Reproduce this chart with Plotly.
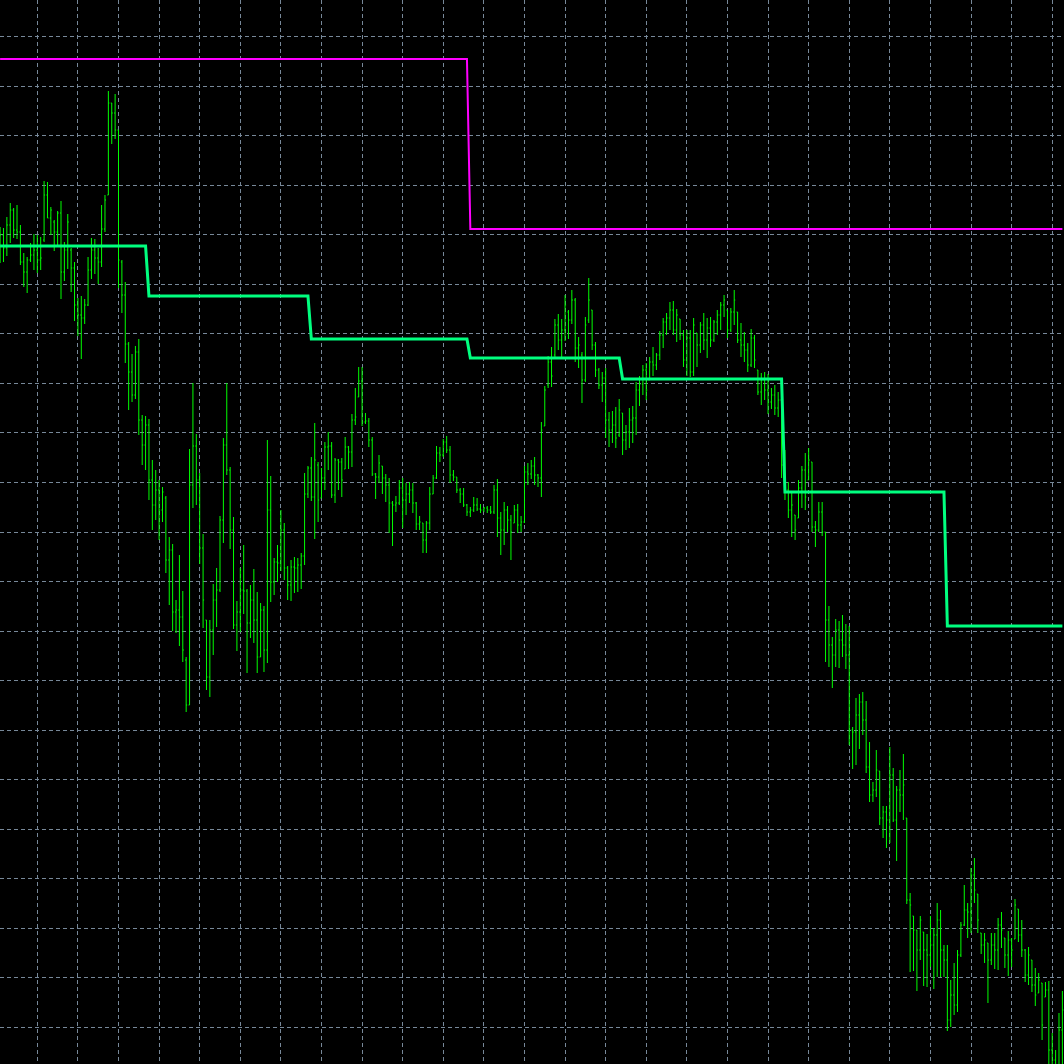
import plotly.graph_objects as go

# bar number on the chart (0 = leftmost bar)
bars = list(range(315))

opens = [
    1.19760, 1.19765, 1.19752, 1.19775, 1.19790, 1.19770, 1.19768, 1.19738, 1.19728, 1.19740,
    1.19745, 1.19750, 1.19740, 1.19760, 1.19805, 1.19782, 1.19778, 1.19768, 1.19787, 1.19728,
    1.19750, 1.19750, 1.19732, 1.19695, 1.19685, 1.19682, 1.19695, 1.19730, 1.19750, 1.19742,
    1.19738, 1.19771, 1.19805, 1.19897, 1.19887, 1.19870, 1.19738, 1.19705, 1.19656, 1.19628,
    1.19605, 1.19648, 1.19580, 1.19555, 1.19575, 1.19520, 1.19495, 1.19510, 1.19490, 1.19502,
    1.19440, 1.19450, 1.19388, 1.19390, 1.19383, 1.19340, 1.19295, 1.19515, 1.19554, 1.19520,
    1.19452, 1.19380, 1.19323, 1.19370, 1.19400, 1.19410, 1.19480, 1.19555, 1.19530, 1.19470,
    1.19375, 1.19388, 1.19410, 1.19409, 1.19377, 1.19400, 1.19380, 1.19343, 1.19390, 1.19350,
    1.19490, 1.19418, 1.19438, 1.19437, 1.19470, 1.19432, 1.19415, 1.19433, 1.19432, 1.19435,
    1.19444, 1.19506, 1.19532, 1.19503, 1.19535, 1.19502, 1.19522, 1.19553, 1.19554, 1.19505,
    1.19540, 1.19538, 1.19531, 1.19553, 1.19548, 1.19580, 1.19603, 1.19619, 1.19578, 1.19579,
    1.19560, 1.19526, 1.19523, 1.19534, 1.19522, 1.19515, 1.19497, 1.19495, 1.19497, 1.19512,
    1.19500, 1.19506, 1.19510, 1.19497, 1.19476, 1.19477, 1.19460, 1.19477, 1.19506, 1.19522,
    1.19547, 1.19545, 1.19558, 1.19550, 1.19525, 1.19523, 1.19510, 1.19506, 1.19495, 1.19488,
    1.19490, 1.19495, 1.19491, 1.19490, 1.19492, 1.19490, 1.19488, 1.19510, 1.19482, 1.19470,
    1.19490, 1.19480, 1.19477, 1.19490, 1.19475, 1.19478, 1.19528, 1.19526, 1.19534, 1.19525,
    1.19522, 1.19574, 1.19615, 1.19638, 1.19645, 1.19675, 1.19660, 1.19670, 1.19688, 1.19680,
    1.19700, 1.19652, 1.19645, 1.19620, 1.19680, 1.19690, 1.19655, 1.19630, 1.19615, 1.19622,
    1.19580, 1.19570, 1.19575, 1.19565, 1.19587, 1.19560, 1.19568, 1.19580, 1.19582, 1.19610,
    1.19616, 1.19630, 1.19620, 1.19638, 1.19635, 1.19645, 1.19665, 1.19678, 1.19682, 1.19690,
    1.19670, 1.19681, 1.19665, 1.19640, 1.19662, 1.19628, 1.19667, 1.19655, 1.19675, 1.19660,
    1.19672, 1.19660, 1.19678, 1.19685, 1.19695, 1.19690, 1.19670, 1.19688, 1.19688, 1.19660,
    1.19655, 1.19650, 1.19635, 1.19662, 1.19630, 1.19608, 1.19620, 1.19610, 1.19598, 1.19605,
    1.19592, 1.19600, 1.19535, 1.19510, 1.19490, 1.19485, 1.19482, 1.19512, 1.19530, 1.19520,
    1.19538, 1.19473, 1.19470, 1.19488, 1.19468, 1.19380, 1.19355, 1.19345, 1.19370, 1.19360,
    1.19355, 1.19345, 1.19270, 1.19268, 1.19285, 1.19298, 1.19280, 1.19233, 1.19205, 1.19210,
    1.19229, 1.19182, 1.19188, 1.19180, 1.19225, 1.19180, 1.19210, 1.19205, 1.19182, 1.19100,
    1.19084, 1.19070, 1.19050, 1.19068, 1.19050, 1.19045, 1.19055, 1.19065, 1.19080, 1.19050,
    1.19040, 1.18980, 1.19005, 1.18995, 1.19045, 1.19075, 1.19090, 1.19088, 1.19125, 1.19106,
    1.19067, 1.19055, 1.19057, 1.19040, 1.19055, 1.19050, 1.19075, 1.19062, 1.19045, 1.19060,
    1.19061, 1.19091, 1.19065, 1.19050, 1.19025, 1.19040, 1.19015, 1.19007, 1.19017, 1.19003,
    1.19010, 1.18950, 1.18940, 1.18930, 1.18970,
]

highs = [
    1.19773, 1.19772, 1.19783, 1.19797, 1.19792, 1.19795, 1.19775, 1.19747, 1.19743, 1.19757,
    1.19766, 1.19765, 1.19763, 1.19819, 1.19818, 1.19793, 1.19780, 1.19789, 1.19799, 1.19758,
    1.19786, 1.19752, 1.19738, 1.19702, 1.19704, 1.19701, 1.19743, 1.19762, 1.19761, 1.19752,
    1.19795, 1.19805, 1.19909, 1.19897, 1.19906, 1.19870, 1.19740, 1.19718, 1.19658, 1.19646,
    1.19654, 1.19661, 1.19585, 1.19584, 1.19581, 1.19540, 1.19530, 1.19520, 1.19513, 1.19504,
    1.19463, 1.19456, 1.19400, 1.19445, 1.19409, 1.19343, 1.19551, 1.19617, 1.19566, 1.19527,
    1.19466, 1.19380, 1.19380, 1.19416, 1.19432, 1.19484, 1.19562, 1.19617, 1.19533, 1.19483,
    1.19399, 1.19432, 1.19455, 1.19411, 1.19415, 1.19431, 1.19408, 1.19397, 1.19394, 1.19560,
    1.19524, 1.19442, 1.19455, 1.19490, 1.19477, 1.19434, 1.19440, 1.19443, 1.19442, 1.19447,
    1.19527, 1.19534, 1.19543, 1.19577, 1.19538, 1.19532, 1.19558, 1.19568, 1.19558, 1.19542,
    1.19541, 1.19542, 1.19563, 1.19554, 1.19586, 1.19612, 1.19633, 1.19633, 1.19587, 1.19582,
    1.19563, 1.19527, 1.19545, 1.19534, 1.19526, 1.19522, 1.19499, 1.19504, 1.19520, 1.19522,
    1.19517, 1.19518, 1.19517, 1.19498, 1.19484, 1.19477, 1.19479, 1.19513, 1.19525, 1.19554,
    1.19553, 1.19561, 1.19564, 1.19554, 1.19530, 1.19523, 1.19512, 1.19512, 1.19496, 1.19493,
    1.19503, 1.19502, 1.19496, 1.19493, 1.19494, 1.19494, 1.19515, 1.19521, 1.19488, 1.19498,
    1.19494, 1.19485, 1.19495, 1.19496, 1.19484, 1.19534, 1.19537, 1.19540, 1.19543, 1.19526,
    1.19578, 1.19614, 1.19644, 1.19653, 1.19681, 1.19686, 1.19681, 1.19705, 1.19690, 1.19710,
    1.19702, 1.19663, 1.19648, 1.19683, 1.19722, 1.19690, 1.19658, 1.19632, 1.19628, 1.19632,
    1.19588, 1.19589, 1.19593, 1.19601, 1.19587, 1.19575, 1.19592, 1.19594, 1.19618, 1.19624,
    1.19635, 1.19637, 1.19643, 1.19653, 1.19647, 1.19669, 1.19682, 1.19687, 1.19698, 1.19699,
    1.19691, 1.19681, 1.19670, 1.19670, 1.19670, 1.19682, 1.19667, 1.19678, 1.19687, 1.19682,
    1.19683, 1.19680, 1.19690, 1.19698, 1.19705, 1.19690, 1.19692, 1.19710, 1.19688, 1.19677,
    1.19668, 1.19657, 1.19671, 1.19665, 1.19630, 1.19627, 1.19628, 1.19626, 1.19612, 1.19615,
    1.19608, 1.19607, 1.19550, 1.19518, 1.19507, 1.19485, 1.19520, 1.19534, 1.19547, 1.19552,
    1.19538, 1.19479, 1.19498, 1.19498, 1.19468, 1.19394, 1.19363, 1.19381, 1.19379, 1.19385,
    1.19376, 1.19374, 1.19273, 1.19302, 1.19306, 1.19308, 1.19299, 1.19258, 1.19218, 1.19250,
    1.19229, 1.19194, 1.19194, 1.19253, 1.19232, 1.19214, 1.19230, 1.19246, 1.19182, 1.19107,
    1.19084, 1.19070, 1.19084, 1.19068, 1.19066, 1.19084, 1.19072, 1.19097, 1.19090, 1.19055,
    1.19055, 1.19020, 1.19037, 1.19050, 1.19078, 1.19115, 1.19097, 1.19132, 1.19142, 1.19106,
    1.19067, 1.19067, 1.19057, 1.19067, 1.19067, 1.19082, 1.19088, 1.19062, 1.19069, 1.19062,
    1.19101, 1.19091, 1.19080, 1.19051, 1.19053, 1.19040, 1.19032, 1.19027, 1.19017, 1.19018,
    1.19019, 1.18967, 1.18950, 1.18987, 1.19009,
]

lows = [
    1.19737, 1.19738, 1.19744, 1.19757, 1.19762, 1.19761, 1.19735, 1.19713, 1.19707, 1.19738,
    1.19730, 1.19727, 1.19730, 1.19758, 1.19782, 1.19765, 1.19749, 1.19754, 1.19701, 1.19719,
    1.19731, 1.19708, 1.19679, 1.19664, 1.19641, 1.19676, 1.19694, 1.19721, 1.19726, 1.19716,
    1.19733, 1.19768, 1.19805, 1.19856, 1.19861, 1.19712, 1.19687, 1.19637, 1.19590, 1.19598,
    1.19601, 1.19565, 1.19535, 1.19530, 1.19500, 1.19470, 1.19480, 1.19460, 1.19478, 1.19427,
    1.19395, 1.19369, 1.19367, 1.19354, 1.19338, 1.19288, 1.19295, 1.19492, 1.19495, 1.19436,
    1.19372, 1.19310, 1.19303, 1.19345, 1.19373, 1.19408, 1.19457, 1.19525, 1.19451, 1.19371,
    1.19349, 1.19368, 1.19386, 1.19327, 1.19362, 1.19357, 1.19327, 1.19343, 1.19328, 1.19337,
    1.19398, 1.19405, 1.19418, 1.19429, 1.19420, 1.19400, 1.19399, 1.19407, 1.19408, 1.19411,
    1.19435, 1.19502, 1.19499, 1.19461, 1.19478, 1.19502, 1.19510, 1.19530, 1.19502, 1.19497,
    1.19510, 1.19503, 1.19531, 1.19531, 1.19533, 1.19575, 1.19603, 1.19574, 1.19576, 1.19553,
    1.19524, 1.19501, 1.19517, 1.19506, 1.19498, 1.19467, 1.19454, 1.19488, 1.19495, 1.19472,
    1.19485, 1.19497, 1.19487, 1.19470, 1.19470, 1.19447, 1.19447, 1.19470, 1.19506, 1.19521,
    1.19538, 1.19543, 1.19547, 1.19517, 1.19519, 1.19507, 1.19497, 1.19493, 1.19484, 1.19483,
    1.19488, 1.19489, 1.19487, 1.19488, 1.19487, 1.19486, 1.19486, 1.19463, 1.19445, 1.19455,
    1.19468, 1.19440, 1.19477, 1.19467, 1.19468, 1.19477, 1.19515, 1.19521, 1.19515, 1.19513,
    1.19503, 1.19574, 1.19612, 1.19613, 1.19643, 1.19650, 1.19643, 1.19659, 1.19661, 1.19676,
    1.19638, 1.19632, 1.19597, 1.19618, 1.19677, 1.19650, 1.19623, 1.19611, 1.19598, 1.19562,
    1.19553, 1.19557, 1.19552, 1.19563, 1.19545, 1.19550, 1.19552, 1.19557, 1.19565, 1.19594,
    1.19605, 1.19600, 1.19620, 1.19624, 1.19630, 1.19640, 1.19652, 1.19665, 1.19670, 1.19665,
    1.19658, 1.19660, 1.19633, 1.19624, 1.19623, 1.19624, 1.19633, 1.19647, 1.19650, 1.19642,
    1.19653, 1.19658, 1.19665, 1.19670, 1.19683, 1.19662, 1.19668, 1.19675, 1.19657, 1.19643,
    1.19638, 1.19628, 1.19633, 1.19632, 1.19605, 1.19595, 1.19600, 1.19586, 1.19591, 1.19585,
    1.19583, 1.19522, 1.19500, 1.19482, 1.19463, 1.19460, 1.19482, 1.19492, 1.19490, 1.19520,
    1.19468, 1.19453, 1.19468, 1.19464, 1.19338, 1.19333, 1.19312, 1.19333, 1.19332, 1.19343,
    1.19331, 1.19255, 1.19231, 1.19235, 1.19251, 1.19265, 1.19227, 1.19198, 1.19198, 1.19203,
    1.19175, 1.19162, 1.19152, 1.19157, 1.19178, 1.19139, 1.19188, 1.19180, 1.19096, 1.19028,
    1.19029, 1.19009, 1.19040, 1.19014, 1.19013, 1.19033, 1.19011, 1.19023, 1.19023, 1.19023,
    1.18969, 1.18973, 1.18985, 1.18988, 1.19043, 1.19074, 1.19062, 1.19067, 1.19097, 1.19067,
    1.19046, 1.19037, 1.18997, 1.19035, 1.19031, 1.19030, 1.19052, 1.19032, 1.19024, 1.19033,
    1.19061, 1.19058, 1.19043, 1.19018, 1.19015, 1.19008, 1.18994, 1.19007, 1.18960, 1.19003,
    1.18930, 1.18920, 1.18915, 1.18920, 1.18925,
]

closes = [
    1.19765, 1.19752, 1.19775, 1.19790, 1.19770, 1.19768, 1.19738, 1.19728, 1.19740, 1.19745,
    1.19750, 1.19740, 1.19742, 1.19805, 1.19782, 1.19790, 1.19768, 1.19787, 1.19728, 1.19750,
    1.19778, 1.19732, 1.19695, 1.19685, 1.19682, 1.19695, 1.19730, 1.19750, 1.19742, 1.19738,
    1.19771, 1.19800, 1.19897, 1.19887, 1.19870, 1.19740, 1.19705, 1.19656, 1.19628, 1.19605,
    1.19648, 1.19580, 1.19555, 1.19575, 1.19520, 1.19495, 1.19510, 1.19490, 1.19508, 1.19440,
    1.19450, 1.19388, 1.19390, 1.19383, 1.19350, 1.19295, 1.19515, 1.19554, 1.19520, 1.19452,
    1.19400, 1.19323, 1.19370, 1.19400, 1.19410, 1.19480, 1.19555, 1.19530, 1.19470, 1.19375,
    1.19388, 1.19410, 1.19409, 1.19377, 1.19400, 1.19380, 1.19343, 1.19390, 1.19350, 1.19490,
    1.19418, 1.19438, 1.19437, 1.19470, 1.19432, 1.19415, 1.19433, 1.19432, 1.19435, 1.19444,
    1.19506, 1.19532, 1.19503, 1.19540, 1.19500, 1.19522, 1.19553, 1.19554, 1.19505, 1.19540,
    1.19538, 1.19520, 1.19553, 1.19548, 1.19580, 1.19583, 1.19619, 1.19578, 1.19579, 1.19560,
    1.19526, 1.19523, 1.19537, 1.19522, 1.19515, 1.19497, 1.19495, 1.19497, 1.19512, 1.19500,
    1.19506, 1.19510, 1.19497, 1.19476, 1.19478, 1.19460, 1.19477, 1.19506, 1.19522, 1.19547,
    1.19545, 1.19558, 1.19550, 1.19525, 1.19523, 1.19510, 1.19506, 1.19495, 1.19488, 1.19490,
    1.19495, 1.19491, 1.19490, 1.19492, 1.19490, 1.19488, 1.19510, 1.19482, 1.19470, 1.19490,
    1.19480, 1.19468, 1.19490, 1.19475, 1.19478, 1.19528, 1.19526, 1.19534, 1.19525, 1.19522,
    1.19570, 1.19610, 1.19638, 1.19624, 1.19675, 1.19660, 1.19670, 1.19695, 1.19680, 1.19700,
    1.19652, 1.19655, 1.19620, 1.19675, 1.19700, 1.19655, 1.19630, 1.19615, 1.19622, 1.19580,
    1.19570, 1.19575, 1.19562, 1.19590, 1.19560, 1.19568, 1.19580, 1.19582, 1.19610, 1.19616,
    1.19630, 1.19610, 1.19638, 1.19635, 1.19645, 1.19665, 1.19678, 1.19682, 1.19690, 1.19670,
    1.19685, 1.19665, 1.19640, 1.19662, 1.19628, 1.19675, 1.19655, 1.19675, 1.19660, 1.19672,
    1.19660, 1.19678, 1.19685, 1.19695, 1.19700, 1.19670, 1.19688, 1.19700, 1.19660, 1.19655,
    1.19650, 1.19635, 1.19662, 1.19640, 1.19608, 1.19620, 1.19610, 1.19598, 1.19605, 1.19592,
    1.19600, 1.19535, 1.19510, 1.19490, 1.19495, 1.19470, 1.19512, 1.19530, 1.19503, 1.19540,
    1.19473, 1.19470, 1.19488, 1.19468, 1.19380, 1.19355, 1.19345, 1.19370, 1.19360, 1.19355,
    1.19345, 1.19270, 1.19268, 1.19285, 1.19298, 1.19280, 1.19233, 1.19205, 1.19210, 1.19230,
    1.19182, 1.19188, 1.19180, 1.19225, 1.19180, 1.19210, 1.19205, 1.19215, 1.19100, 1.19095,
    1.19070, 1.19050, 1.19080, 1.19050, 1.19045, 1.19055, 1.19065, 1.19080, 1.19050, 1.19040,
    1.18980, 1.19005, 1.18995, 1.19045, 1.19075, 1.19090, 1.19088, 1.19125, 1.19110, 1.19080,
    1.19055, 1.19060, 1.19040, 1.19055, 1.19050, 1.19075, 1.19070, 1.19045, 1.19060, 1.19050,
    1.19095, 1.19065, 1.19050, 1.19025, 1.19045, 1.19015, 1.19005, 1.19020, 1.18975, 1.19010,
    1.18950, 1.18940, 1.18930, 1.18970, 1.18990,
]

# indicator step lines: level value and the bar where it starts
magenta_levels = [1.19941, 1.19771]
magenta_starts = [0, 139]
green_levels = [1.19754, 1.19704, 1.19661, 1.19642, 1.19621, 1.19508, 1.19374]
green_starts = [0, 44, 92, 139, 184, 232, 280]


def step_series(levels, starts):
    # one value per bar, holding each level until the next one starts
    out = []
    for b in bars:
        val = levels[0]
        for lv, st in zip(levels, starts):
            if b >= st:
                val = lv
        out.append(val)
    return out


fig = go.Figure()

fig.add_trace(go.Ohlc(x=bars, open=opens, high=highs, low=lows, close=closes,
                      increasing=dict(line=dict(color='#00FF00', width=1)),
                      decreasing=dict(line=dict(color='#00FF00', width=1)),
                      tickwidth=0.3, showlegend=False, hoverinfo='skip'))

fig.add_trace(go.Scatter(x=bars, y=step_series(magenta_levels, magenta_starts), mode='lines',
                         line=dict(color='#FF00FF', width=2), showlegend=False, hoverinfo='skip'))
fig.add_trace(go.Scatter(x=bars, y=step_series(green_levels, green_starts), mode='lines',
                         line=dict(color='#00FF7F', width=3), showlegend=False, hoverinfo='skip'))

grid = dict(showgrid=True, gridcolor='#778899', gridwidth=1, griddash='4px,3px',
            showticklabels=False, zeroline=False, showline=False, ticks='')

fig.update_layout(width=1064, height=1064, margin=dict(l=0, r=0, t=0, b=0),
                  paper_bgcolor='black', plot_bgcolor='black', showlegend=False,
                  xaxis=dict(range=[-0.03, 314.48], tickmode='linear', tick0=11, dtick=12,
                             rangeslider=dict(visible=False), **grid),
                  yaxis=dict(range=[1.18936, 1.20000], tickmode='linear', tick0=1.199635, dtick=0.0004955, **grid))

# page has a default 8px body margin, drop it so the chart fills the window
fig.write_html("out.html", config={'displayModeBar': False},
               post_script="document.body.style.margin='0';document.body.style.background='black';")
